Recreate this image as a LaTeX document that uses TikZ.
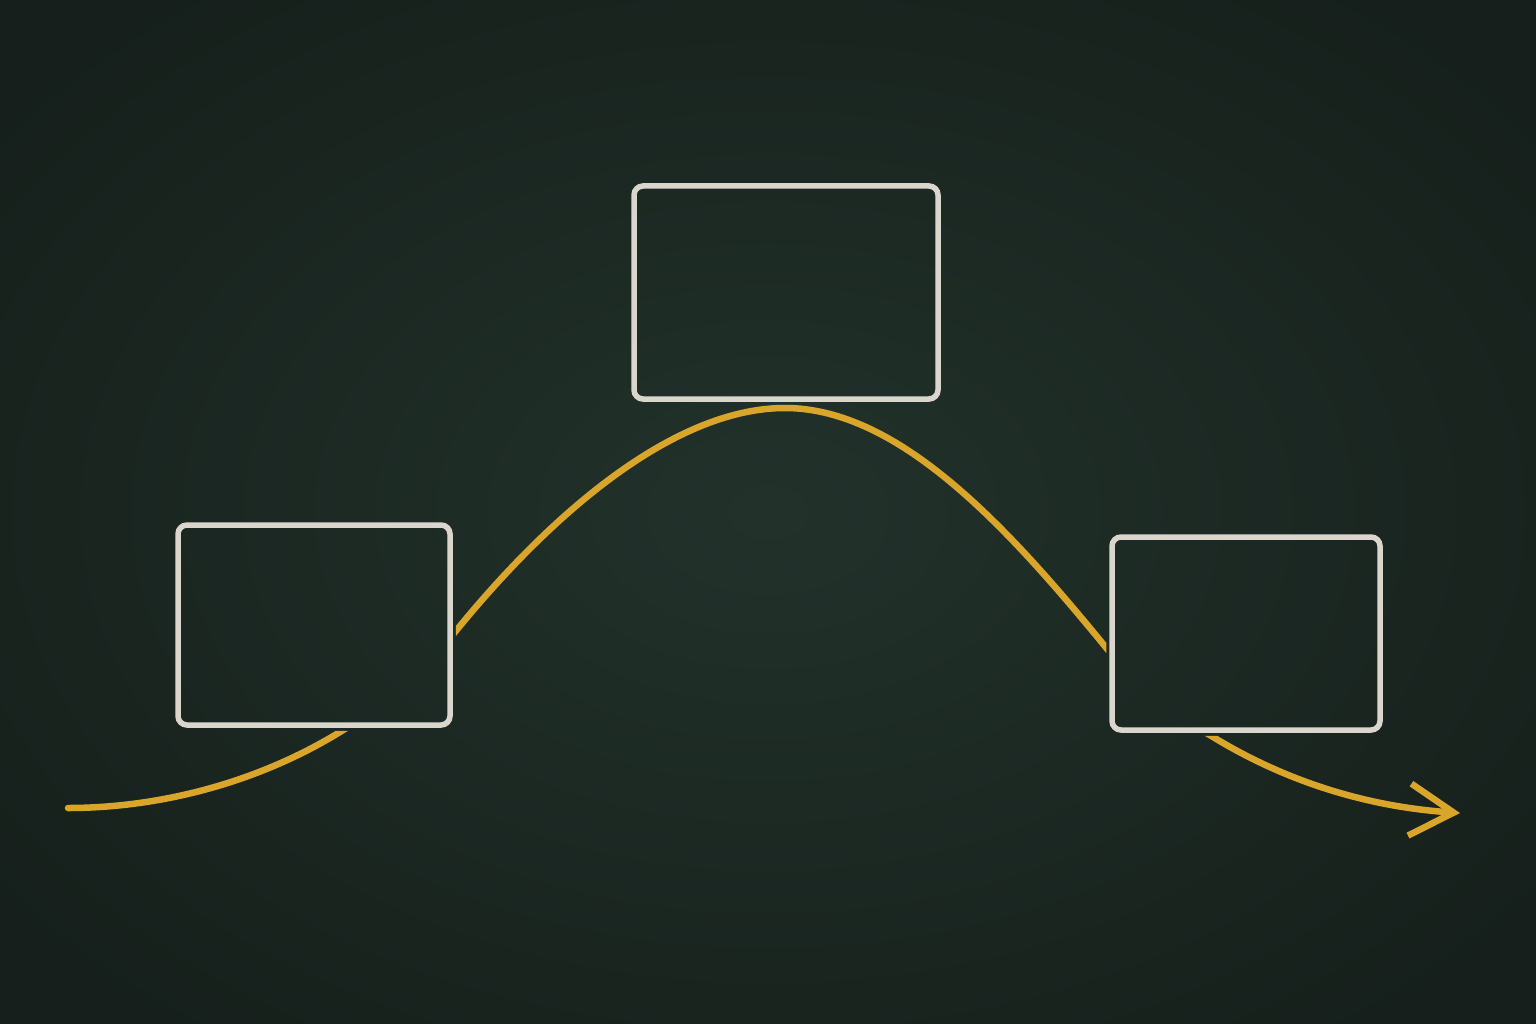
\documentclass[tikz,border=0pt]{standalone}
\usetikzlibrary{arrows.meta}
\definecolor{boardin}{HTML}{22322B}
\definecolor{boardout}{HTML}{161F1B}
\definecolor{chalkwhite}{HTML}{DAD6CE}
\definecolor{chalkyellow}{HTML}{D9A52B}
\tikzset{
  chalkbox/.style={draw=chalkwhite, line width=5.5pt, rounded corners=9pt, inner sep=0pt},
  chalkcurve/.style={draw=chalkyellow, line width=6.5pt, line cap=round,
    -{Straight Barb[length=44pt, width=52pt, line width=6.5pt]}}
}
\begin{document}
\begin{tikzpicture}[x=1pt, y=-1pt]
  \useasboundingbox (0,0) rectangle (1536,1024);
  \shade[inner color=boardin, outer color=boardout] (-200,-150) rectangle (1736,1174);
  % boxes
  \node[chalkbox, minimum width=272pt, minimum height=200pt] (leftbox) at (314,625) {};
  \node[chalkbox, minimum width=304pt, minimum height=213pt] (midbox) at (786,292.5) {};
  \node[chalkbox, minimum width=268pt, minimum height=193pt] (rightbox) at (1246,633.5) {};
  % curve end points
  \coordinate (start) at (68,808);
  \coordinate (finish) at (1460,813);
  \coordinate (peak) at (785,408);
  \coordinate (leftout) at (455,632);
  \coordinate (rightin) at (1108,650);
  \coordinate (rightout) at (1213,737);
  \begin{scope}[even odd rule]
    \clip (-10,-10) rectangle (1546,1034)
      ([shift={(-3pt,-3pt)}]leftbox.south west) rectangle ([shift={(3pt,3pt)}]leftbox.north east)
      ([shift={(-3pt,-3pt)}]midbox.south west) rectangle ([shift={(3pt,3pt)}]midbox.north east)
      ([shift={(-3pt,-3pt)}]rightbox.south west) rectangle ([shift={(3pt,3pt)}]rightbox.north east);
    \draw[chalkcurve] (start) .. controls (200,808) and (355,755) .. (leftout)
       .. controls (560,503) and (680,408) .. (peak)
       .. controls (900,408) and (1010,530) .. (rightin)
       .. controls (1150,702) and (1163,707) .. (rightout)
       .. controls (1300,790) and (1385,808) .. (finish);
  \end{scope}
\end{tikzpicture}
\end{document}
